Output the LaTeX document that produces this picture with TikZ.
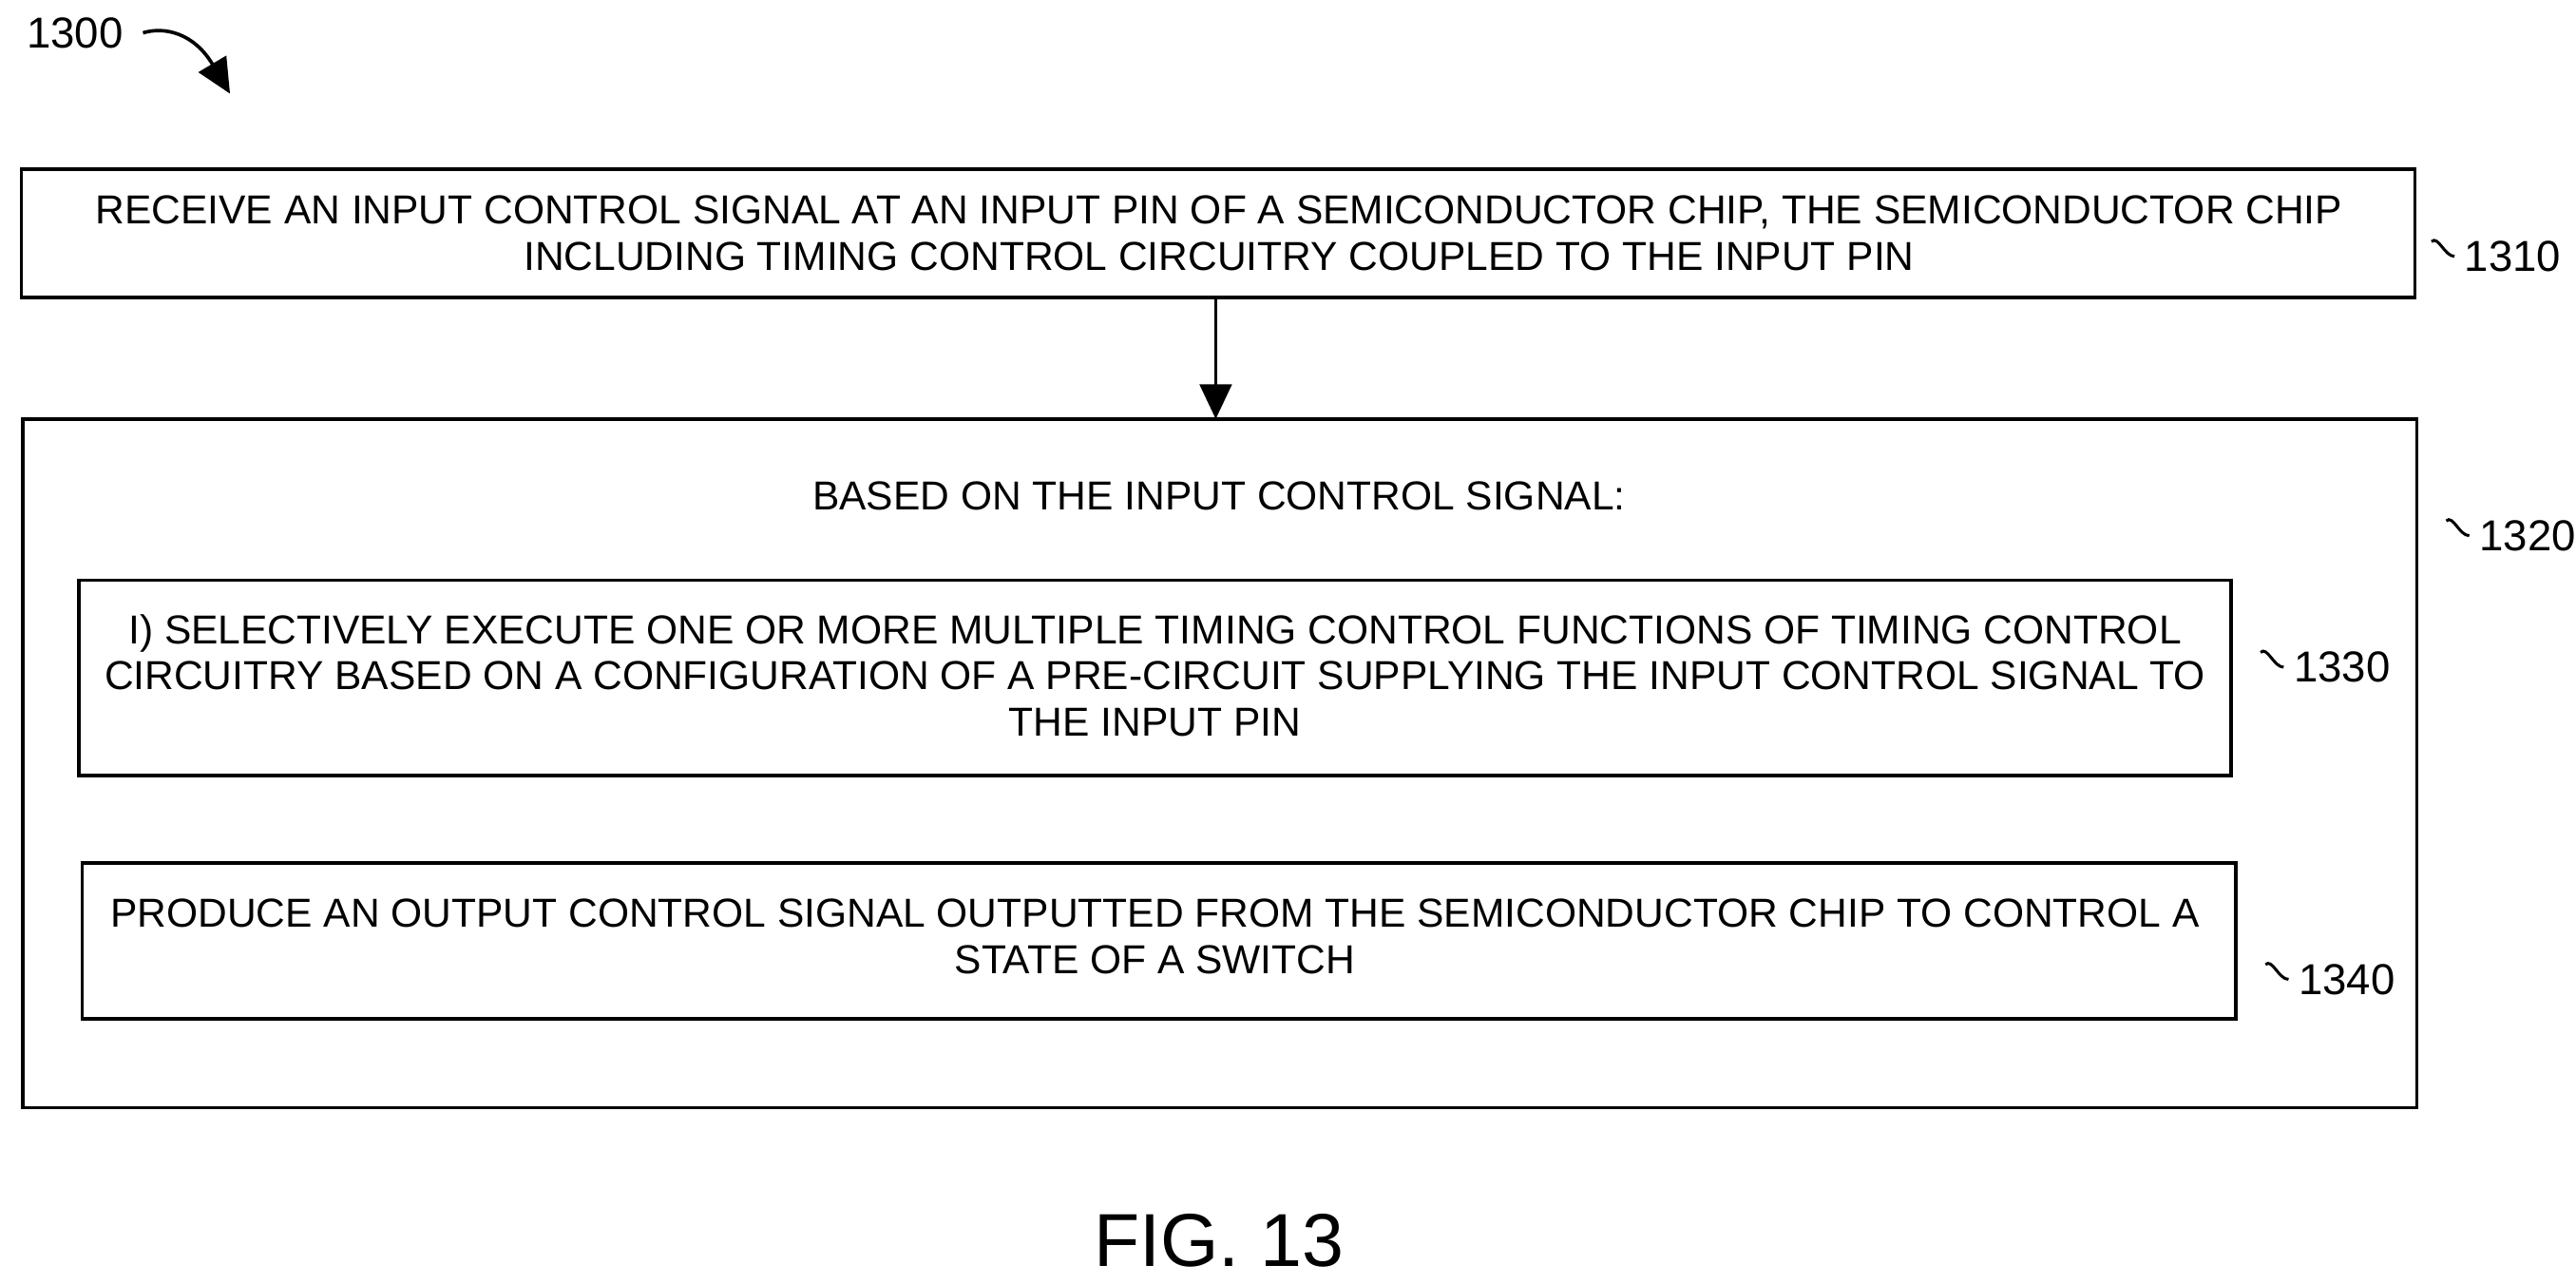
\documentclass[tikz,border=0pt]{standalone}
\usepackage{fontspec}
\setmainfont{Liberation Sans}
\usetikzlibrary{positioning,arrows.meta}
\tikzset{
  stepbox/.style={draw, line width=1.2pt, inner sep=0pt},
  steptext/.style={align=center, font=\fontsize{14}{16}\selectfont},
  reflabel/.style={font=\fontsize{15}{17}\selectfont, anchor=west},
}
\begin{document}
\begin{tikzpicture}[x=0.02cm, y=-0.02cm]
    \useasboundingbox (0,0) rectangle (1568,781);

    % Boxes
    \draw[stepbox] (13,103) rectangle (1470,181);
    \draw[stepbox] (14,255) rectangle (1471,674);
    \draw[stepbox] (48,353) rectangle (1358,472);
    \draw[stepbox] (50,525) rectangle (1361,620);

    \coordinate (top) at (740,181);
    \coordinate (bot) at (740,255);
    \draw[line width=1.2pt, -{Triangle[length=12pt,width=11pt]}] (top) -- (bot);

    % Texts
    \node[steptext] (t1310) at (742,142) {RECEIVE AN INPUT CONTROL SIGNAL AT AN INPUT PIN OF A SEMICONDUCTOR CHIP, THE SEMICONDUCTOR CHIP\\INCLUDING TIMING CONTROL CIRCUITRY COUPLED TO THE INPUT PIN};
    \node[steptext] (t1320) at (742,302) {BASED ON THE INPUT CONTROL SIGNAL:};
    \node[steptext] (t1330) at (703,411) {I) SELECTIVELY EXECUTE ONE OR MORE MULTIPLE TIMING CONTROL FUNCTIONS OF TIMING CONTROL\\CIRCUITRY BASED ON A CONFIGURATION OF A PRE-CIRCUIT SUPPLYING THE INPUT CONTROL SIGNAL TO\\THE INPUT PIN};
    \node[steptext] (t1340) at (703,570) {PRODUCE AN OUTPUT CONTROL SIGNAL OUTPUTTED FROM THE SEMICONDUCTOR CHIP TO CONTROL A\\STATE OF A SWITCH};

    % Reference labels
    \node[reflabel] (l1310) at (1494,156) {1310};
    \node[reflabel] (l1320) at (1503,326) {1320};
    \node[reflabel] (l1330) at (1390,406) {1330};
    \node[reflabel] (l1340) at (1393,596) {1340};
    \draw[line width=1pt] (l1310.west) ++(-14,-9) .. controls +(4,-4) and +(-6,0) .. (l1310.west);
    \draw[line width=1pt] (l1320.west) ++(-14,-9) .. controls +(4,-4) and +(-6,0) .. (l1320.west);
    \draw[line width=1pt] (l1330.west) ++(-14,-9) .. controls +(4,-4) and +(-6,0) .. (l1330.west);
    \draw[line width=1pt] (l1340.west) ++(-14,-9) .. controls +(4,-4) and +(-6,0) .. (l1340.west);

    \node[reflabel] (l1300) at (10,20) {1300};
    \coordinate (a1300) at (140,57);
    \draw[line width=1.2pt, -{Triangle[length=12pt,width=11pt]}] (l1300.east) ++(6,0) .. controls (100,16) and (118,20) .. (a1300);

    \node[font=\fontsize{26}{30}\selectfont] (fig) at (742,755) {FIG. 13};
\end{tikzpicture}
\end{document}
